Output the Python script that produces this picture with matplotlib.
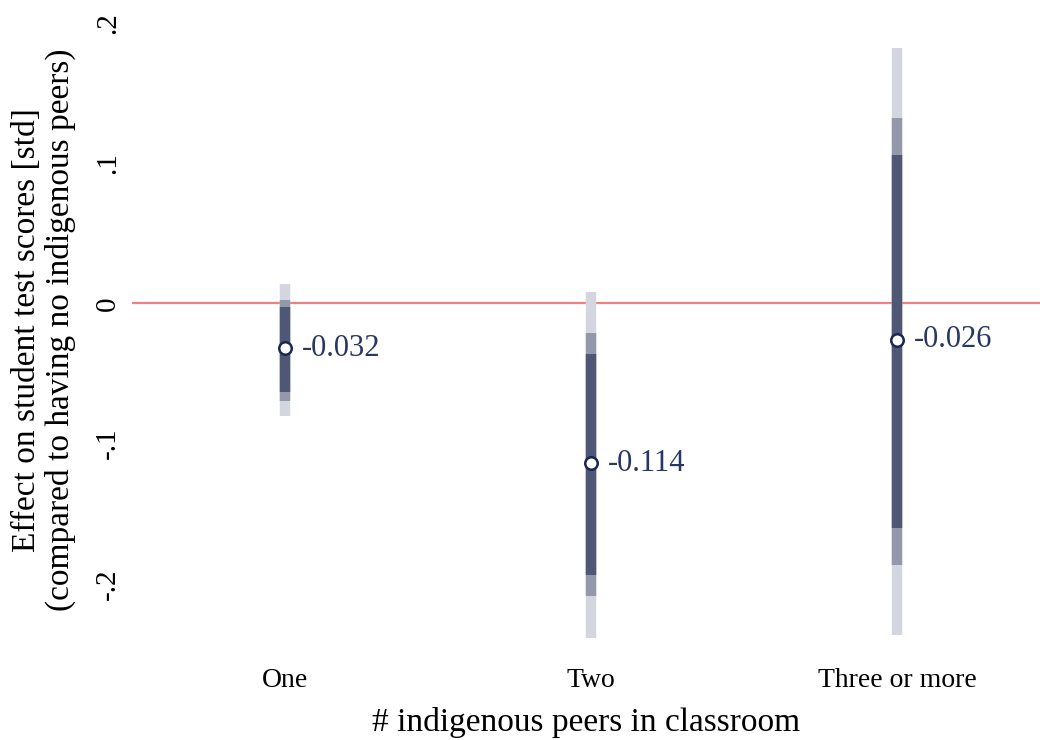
import matplotlib
matplotlib.use("Agg")
import matplotlib.pyplot as plt
import numpy as np

categories = ["One", "Two", "Three or more"]
estimates = [-0.032, -0.114, -0.026]
ci99_low = [-0.0805, -0.2383, -0.2366]
ci99_high = [0.0141, 0.0081, 0.1823]
ci95_low = [-0.0693, -0.2088, -0.1863]
ci95_high = [0.0026, -0.0212, 0.1323]
ci90_low = [-0.0634, -0.1936, -0.1603]
ci90_high = [-0.0026, -0.0364, 0.1060]
labels = ["-0.032", "-0.114", "-0.026"]
yticks = [-0.2, -0.1, 0, 0.1, 0.2]
yticklabels = ["-.2", "-.1", "0", ".1", ".2"]

plt.rcParams['font.family'] = ['Liberation Serif', 'DejaVu Serif']

fig = plt.figure(figsize=(10.4, 7.4), dpi=100)
ax = fig.add_axes([132/1040, 1 - 654/740, 1 - 132/1040, (654 - 23)/740])

x = np.arange(1, len(categories) + 1)
lw = 7.5
ax.axhline(0, color="#f08080", lw=1.6, zorder=1)
ax.vlines(x, ci99_low, ci99_high, color="#d3d5df", lw=lw, zorder=2)
ax.vlines(x, ci95_low, ci95_high, color="#9398aa", lw=lw, zorder=3)
ax.vlines(x, ci90_low, ci90_high, color="#4e5875", lw=lw, zorder=4)
ax.plot(x, estimates, "o", ms=9, mfc="white", mec="#1a2850", mew=1.8, zorder=5, linestyle="none")
for xi, yi, lab in zip(x, estimates, labels):
    ax.annotate(lab, (xi, yi), xytext=(12, 0), textcoords="offset points",
                va="center", ha="left", fontsize=22, color="#2a3760")

ax.set_xlim(0.5, 3.467)
ax.set_ylim(-0.25, 0.2)
ax.set_xticks(x)
ax.set_xticklabels(categories, fontsize=20)
ax.set_yticks(yticks)
ax.set_yticklabels(yticklabels, fontsize=21, rotation=90, va="center")
ax.tick_params(length=0, pad=8)
ax.tick_params(axis="x", pad=10)
for s in ax.spines.values():
    s.set_visible(False)
ax.set_xlabel("# indigenous peers in classroom", fontsize=24, labelpad=10)
fig.text(44/1040, 1 - 330/740,
         "Effect on student test scores [std]\n(compared to having no indigenous peers)",
         fontsize=24, rotation=90, ha="center", va="center", linespacing=1.12,
         multialignment="center")

fig.savefig("out.png", dpi=100, facecolor="white")
